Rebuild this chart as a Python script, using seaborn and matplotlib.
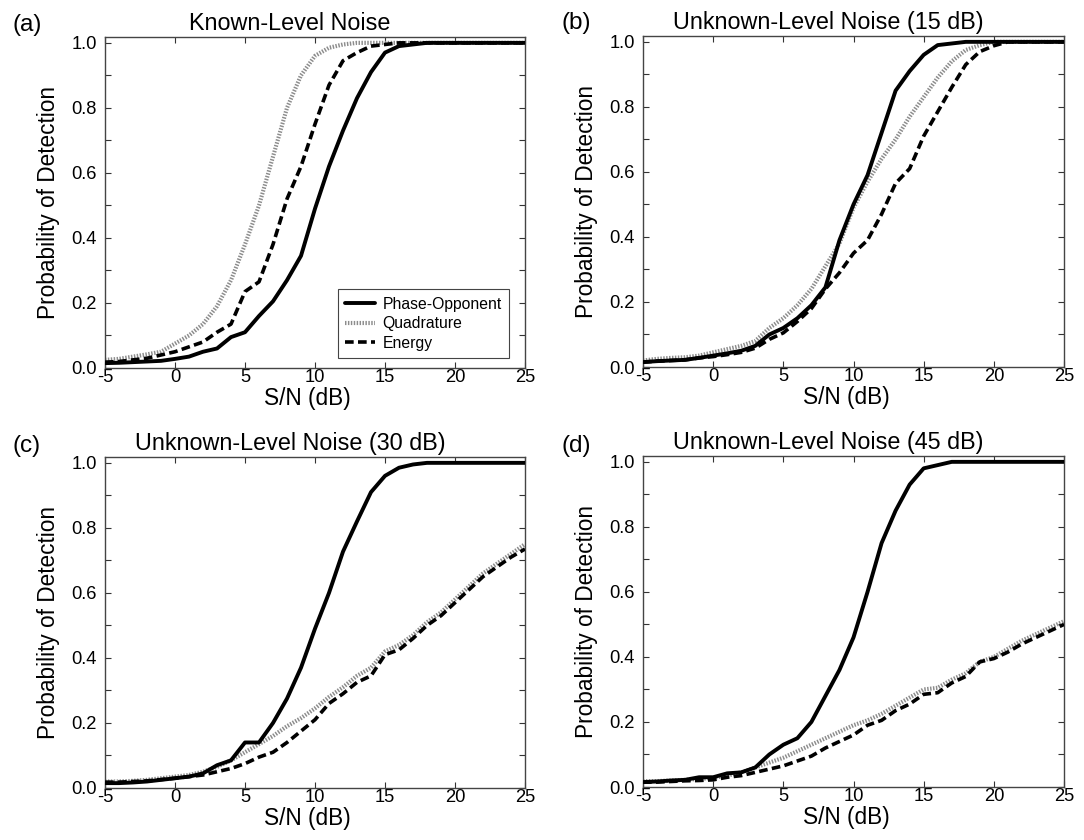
import numpy as np
import pandas as pd
import matplotlib
matplotlib.use("Agg")
import matplotlib.pyplot as plt
from matplotlib.ticker import MultipleLocator
import seaborn as sns

# S/N values in dB
snr = list(range(-5, 26))

# (a) Known-level noise
known_phase = [0.015, 0.016, 0.018, 0.020, 0.022, 0.028, 0.035, 0.050, 0.060, 0.095,
               0.110, 0.160, 0.205, 0.270, 0.345, 0.490, 0.620, 0.730, 0.830, 0.910,
               0.970, 0.990, 0.995, 1.0, 1.0, 1.0, 1.0, 1.0, 1.0, 1.0, 1.0]
known_quad = [0.025, 0.028, 0.035, 0.042, 0.050, 0.075, 0.100, 0.135, 0.190, 0.270,
              0.380, 0.500, 0.650, 0.800, 0.900, 0.960, 0.985, 0.995, 1.0, 1.0,
              1.0, 1.0, 1.0, 1.0, 1.0, 1.0, 1.0, 1.0, 1.0, 1.0, 1.0]
known_energy = [0.018, 0.020, 0.025, 0.030, 0.040, 0.050, 0.065, 0.080, 0.110, 0.135,
                0.235, 0.265, 0.380, 0.520, 0.620, 0.750, 0.870, 0.945, 0.970, 0.990,
                0.995, 1.0, 1.0, 1.0, 1.0, 1.0, 1.0, 1.0, 1.0, 1.0, 1.0]

# (b) Unknown-level noise, 15 dB
u15_phase = [0.015, 0.018, 0.020, 0.022, 0.028, 0.035, 0.042, 0.050, 0.065, 0.100,
             0.120, 0.150, 0.190, 0.245, 0.390, 0.500, 0.590, 0.720, 0.850, 0.910,
             0.960, 0.990, 0.995, 1.0, 1.0, 1.0, 1.0, 1.0, 1.0, 1.0, 1.0]
u15_quad = [0.020, 0.025, 0.028, 0.030, 0.035, 0.045, 0.055, 0.065, 0.080, 0.120,
            0.150, 0.190, 0.240, 0.310, 0.380, 0.490, 0.570, 0.640, 0.700, 0.770,
            0.830, 0.890, 0.940, 0.975, 0.990, 1.0, 1.0, 1.0, 1.0, 1.0, 1.0]
u15_energy = [0.015, 0.018, 0.020, 0.022, 0.028, 0.032, 0.038, 0.045, 0.058, 0.085,
              0.105, 0.140, 0.180, 0.240, 0.290, 0.350, 0.390, 0.470, 0.565, 0.610,
              0.710, 0.785, 0.860, 0.930, 0.970, 0.988, 1.0, 1.0, 1.0, 1.0, 1.0]

# (c) Unknown-level noise, 30 dB
u30_phase = [0.015, 0.015, 0.017, 0.020, 0.025, 0.030, 0.035, 0.045, 0.070, 0.085,
             0.140, 0.140, 0.200, 0.275, 0.370, 0.490, 0.600, 0.727, 0.820, 0.910,
             0.960, 0.985, 0.995, 1.0, 1.0, 1.0, 1.0, 1.0, 1.0, 1.0, 1.0]
u30_quad = [0.020, 0.020, 0.022, 0.025, 0.030, 0.035, 0.040, 0.050, 0.065, 0.085,
            0.110, 0.135, 0.160, 0.190, 0.215, 0.245, 0.280, 0.310, 0.345, 0.370,
            0.420, 0.440, 0.470, 0.510, 0.540, 0.580, 0.620, 0.660, 0.690, 0.720, 0.750]
u30_energy = [0.018, 0.018, 0.020, 0.022, 0.026, 0.030, 0.035, 0.040, 0.050, 0.060,
              0.075, 0.095, 0.110, 0.140, 0.175, 0.210, 0.260, 0.290, 0.325, 0.345,
              0.410, 0.425, 0.460, 0.500, 0.530, 0.570, 0.610, 0.650, 0.680, 0.710, 0.735]

# (d) Unknown-level noise, 45 dB
u45_phase = [0.015, 0.017, 0.020, 0.022, 0.030, 0.030, 0.042, 0.045, 0.060, 0.100,
             0.130, 0.150, 0.200, 0.280, 0.360, 0.460, 0.600, 0.750, 0.850, 0.930,
             0.980, 0.990, 1.0, 1.0, 1.0, 1.0, 1.0, 1.0, 1.0, 1.0, 1.0]
u45_quad = [0.018, 0.018, 0.020, 0.022, 0.025, 0.028, 0.035, 0.045, 0.060, 0.075,
            0.090, 0.110, 0.130, 0.150, 0.170, 0.190, 0.205, 0.225, 0.250, 0.275,
            0.300, 0.305, 0.330, 0.350, 0.385, 0.400, 0.425, 0.450, 0.470, 0.490, 0.510]
u45_energy = [0.015, 0.015, 0.017, 0.019, 0.020, 0.022, 0.030, 0.035, 0.045, 0.055,
              0.065, 0.080, 0.095, 0.120, 0.140, 0.160, 0.190, 0.205, 0.235, 0.255,
              0.285, 0.290, 0.320, 0.340, 0.385, 0.395, 0.415, 0.440, 0.460, 0.480, 0.500]

detectors = ["Phase-Opponent", "Quadrature", "Energy"]
panel_titles = ["Known-Level Noise", "Unknown-Level Noise (15 dB)",
                "Unknown-Level Noise (30 dB)", "Unknown-Level Noise (45 dB)"]
panel_tags = ["(a)", "(b)", "(c)", "(d)"]
panel_series = [
    (known_phase, known_quad, known_energy),
    (u15_phase, u15_quad, u15_energy),
    (u30_phase, u30_quad, u30_energy),
    (u45_phase, u45_quad, u45_energy),
]

sns.set_style("ticks")
plt.rcParams["font.family"] = ["Liberation Sans", "DejaVu Sans"]
plt.rcParams["axes.unicode_minus"] = False
plt.rcParams["xtick.direction"] = "in"
plt.rcParams["ytick.direction"] = "in"
plt.rcParams["text.color"] = "black"
plt.rcParams["axes.labelcolor"] = "black"
plt.rcParams["xtick.labelcolor"] = "black"
plt.rcParams["ytick.labelcolor"] = "black"

styles = {
    "Phase-Opponent": dict(color="black", lw=2.8, ls="-"),
    "Quadrature": dict(color="#8c8c8c", lw=3.0, ls=(0, (0.35, 0.35))),
    "Energy": dict(color="black", lw=2.6, ls=(0, (2.4, 1.2))),
}

fig = plt.figure(figsize=(10.84, 8.4), dpi=100)
W, H = 1084, 840
# axes boxes in pixels: left, top, right, bottom
boxes = [(105, 37, 525, 368), (643, 36, 1064, 367),
         (105, 457, 525, 788), (643, 456, 1064, 787)]
tag_pos = [(27, 25), (576, 23), (27, 446), (576, 446)]

for i, (box, title, tag, series) in enumerate(zip(boxes, panel_titles, panel_tags, panel_series)):
    l, t, r, b = box
    ax_w, ax_h = r - l, b - t
    ax = fig.add_axes([l / W, 1 - b / H, ax_w / W, ax_h / H])
    df = pd.DataFrame({
        "snr": snr * 3,
        "pd": list(series[0]) + list(series[1]) + list(series[2]),
        "det": [d for d in detectors for _ in snr],
    })
    # quadrature first so the black curves sit on top
    for det in ["Quadrature", "Energy", "Phase-Opponent"]:
        st = styles[det]
        sns.lineplot(data=df[df["det"] == det], x="snr", y="pd", ax=ax,
                     color=st["color"], linewidth=st["lw"], linestyle=st["ls"],
                     label=det, legend=False, zorder=3 if det != "Quadrature" else 2)
    ax.set_xlim(-5, 25)
    ax.set_ylim(0, 1.018)
    ax.xaxis.set_major_locator(MultipleLocator(5))
    ax.yaxis.set_minor_locator(MultipleLocator(0.1))
    ax.set_yticks(np.arange(0, 1.01, 0.2))
    ax.set_yticklabels([f"{v:.1f}" for v in np.arange(0, 1.01, 0.2)])
    ax.tick_params(which="both", direction="in", top=True, right=True,
                   labelsize=13.2, color="#333333", width=0.8, length=4,
                   labelcolor="black")
    ax.tick_params(axis="x", pad=0.5)
    ax.tick_params(axis="y", pad=6)
    for sp in ax.spines.values():
        sp.set_color("#444444")
        sp.set_linewidth(1.0)
        sp.set_visible(True)
    ax.set_xlabel("S/N (dB)", fontsize=16.3, color="black")
    ax.xaxis.set_label_coords(0.482, -0.058)
    ax.set_ylabel("Probability of Detection", fontsize=16.3, color="black")
    ax.yaxis.set_label_coords(-0.107, 0.5)
    ax.text(0.5 - 25 / ax_w, 1 + 7 / ax_h, title, transform=ax.transAxes,
            fontsize=16.8, ha="center", va="baseline", color="black")
    fig.text(tag_pos[i][0] / W, 1 - tag_pos[i][1] / H, tag, fontsize=17.5,
             ha="center", va="center", color="black")
    if i == 0:
        handles, labels = ax.get_legend_handles_labels()
        order = [labels.index(d) for d in detectors]
        leg = ax.legend([handles[k] for k in order], [labels[k] for k in order],
                        loc="lower right", fontsize=11.3, frameon=True, fancybox=False,
                        edgecolor="#444444", framealpha=1, handlelength=1.9,
                        borderpad=0.45, labelspacing=0.3, handletextpad=0.5,
                        borderaxespad=0, bbox_to_anchor=(1 - 16 / ax_w, 10 / ax_h))
        leg.get_frame().set_linewidth(0.8)
        for txt in leg.get_texts():
            txt.set_color("black")

fig.savefig("out.png", dpi=100)
